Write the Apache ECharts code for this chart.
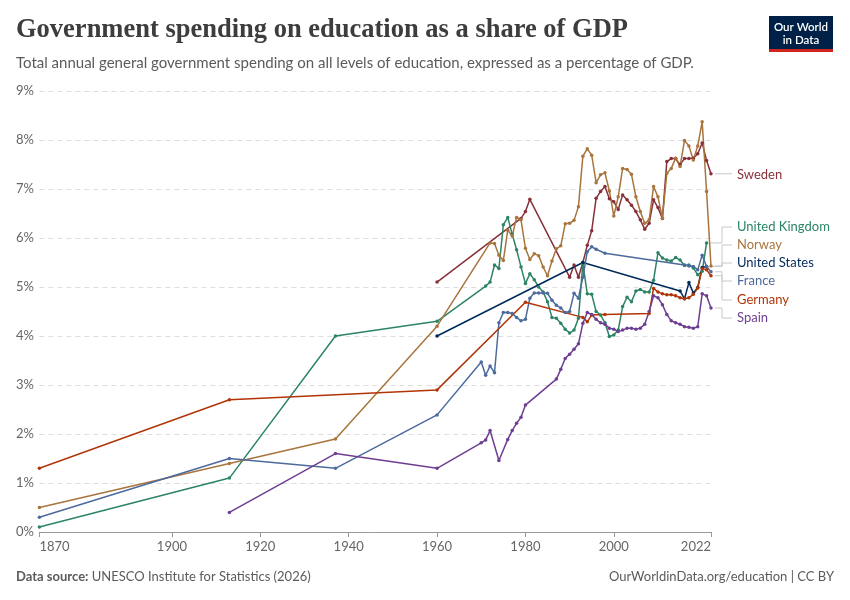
<!DOCTYPE html>
<html lang="en" style="height: 100%">
<head>
  <meta charset="utf-8">
</head>
<body style="height: 100%; margin: 0; background: #fff">
  <div id="container" style="width: 850px; height: 600px"></div>

  <script type="text/javascript" src="https://cdn.jsdelivr.net/npm/echarts@6/dist/echarts.min.js"></script>

  <script type="text/javascript">
    // values, [year, % of GDP]
    const sweden = [
      [1960, 5.1], [1979, 6.4], [1980, 6.54], [1981, 6.79], [1990, 5.2], [1991, 5.45],
      [1992, 5.2], [1993, 5.5], [1994, 5.85], [1995, 6.15], [1996, 6.81], [1997, 6.95],
      [1998, 7.05], [1999, 6.8], [2000, 6.74], [2001, 6.58], [2002, 6.88], [2003, 6.78],
      [2004, 6.67], [2005, 6.54], [2006, 6.37], [2007, 6.18], [2008, 6.3], [2009, 6.78],
      [2010, 6.62], [2011, 6.4], [2012, 7.56], [2013, 7.62], [2014, 7.62], [2015, 7.5],
      [2016, 7.62], [2017, 7.62], [2018, 7.63], [2019, 7.72], [2020, 7.94], [2021, 7.58],
      [2022, 7.31]
    ];
    const unitedKingdom = [
      [1870, 0.1], [1913, 1.1], [1937, 4.0], [1960, 4.3], [1971, 5.02], [1972, 5.1],
      [1973, 5.45], [1974, 5.38], [1975, 6.27], [1976, 6.42], [1977, 6.08], [1978, 5.76],
      [1979, 5.41], [1980, 5.07], [1981, 5.27], [1982, 5.15], [1983, 5.0], [1984, 4.9],
      [1985, 4.7], [1986, 4.38], [1987, 4.36], [1988, 4.26], [1989, 4.14], [1990, 4.06],
      [1991, 4.12], [1992, 4.36], [1993, 5.48], [1994, 4.86], [1995, 4.85], [1996, 4.5],
      [1997, 4.43], [1998, 4.27], [1999, 3.99], [2000, 4.02], [2001, 4.12], [2002, 4.6],
      [2003, 4.79], [2004, 4.7], [2005, 4.92], [2006, 4.95], [2007, 4.9], [2008, 4.9],
      [2009, 5.14], [2010, 5.7], [2011, 5.59], [2012, 5.55], [2013, 5.53], [2014, 5.6],
      [2015, 5.55], [2016, 5.44], [2017, 5.45], [2018, 5.39], [2019, 5.25], [2020, 5.32],
      [2021, 5.9]
    ];
    const norway = [
      [1870, 0.5], [1913, 1.4], [1937, 1.9], [1960, 4.2], [1972, 5.9], [1973, 5.89],
      [1974, 5.65], [1975, 5.54], [1976, 6.16], [1977, 6.04], [1978, 6.42], [1979, 6.37],
      [1980, 5.79], [1981, 5.56], [1982, 5.68], [1983, 5.64], [1984, 5.41], [1985, 5.23],
      [1986, 5.53], [1987, 5.78], [1988, 5.84], [1989, 6.29], [1990, 6.3], [1991, 6.36],
      [1992, 6.64], [1993, 7.67], [1994, 7.82], [1995, 7.69], [1996, 7.13], [1997, 7.29],
      [1998, 7.33], [1999, 6.96], [2000, 6.45], [2001, 6.84], [2002, 7.42], [2003, 7.4],
      [2004, 7.3], [2005, 6.84], [2006, 6.54], [2007, 6.3], [2008, 6.37], [2009, 7.05],
      [2010, 6.84], [2011, 6.4], [2012, 7.32], [2013, 7.42], [2014, 7.63], [2015, 7.46],
      [2016, 7.99], [2017, 7.88], [2018, 7.59], [2019, 7.88], [2020, 8.37], [2021, 6.95],
      [2022, 5.43]
    ];
    const unitedStates = [
      [1960, 4.0], [1993, 5.5], [2015, 4.92], [2016, 4.76], [2017, 5.09], [2018, 4.88],
      [2019, 4.99], [2020, 5.4], [2021, 5.42]
    ];
    const france = [
      [1870, 0.3], [1913, 1.5], [1937, 1.3], [1960, 2.39], [1970, 3.47], [1971, 3.2],
      [1972, 3.39], [1973, 3.25], [1974, 4.27], [1975, 4.48], [1976, 4.48], [1977, 4.46],
      [1978, 4.38], [1979, 4.31], [1980, 4.34], [1981, 4.77], [1982, 4.88], [1983, 4.88],
      [1984, 4.88], [1985, 4.87], [1986, 4.73], [1987, 4.63], [1988, 4.57], [1989, 4.48],
      [1990, 4.5], [1991, 4.87], [1992, 4.77], [1993, 5.2], [1994, 5.72], [1995, 5.82],
      [1996, 5.77], [1998, 5.69], [2016, 5.45], [2017, 5.43], [2018, 5.42], [2019, 5.35],
      [2020, 5.65], [2021, 5.42], [2022, 5.31]
    ];
    const germany = [
      [1870, 1.3], [1913, 2.7], [1960, 2.9], [1980, 4.69], [1993, 4.38], [1994, 4.29],
      [1995, 4.43], [1998, 4.44], [2008, 4.46], [2009, 4.97], [2010, 4.9], [2011, 4.86],
      [2012, 4.84], [2013, 4.84], [2014, 4.82], [2015, 4.78], [2016, 4.76], [2017, 4.78],
      [2018, 4.85], [2019, 4.98], [2020, 5.38], [2021, 5.35], [2022, 5.23]
    ];
    const spain = [
      [1913, 0.4], [1937, 1.6], [1960, 1.3], [1970, 1.82], [1971, 1.88], [1972, 2.07],
      [1974, 1.46], [1976, 1.89], [1977, 2.07], [1978, 2.22], [1979, 2.34], [1980, 2.59],
      [1987, 3.12], [1988, 3.32], [1989, 3.54], [1990, 3.63], [1991, 3.73], [1992, 3.84],
      [1993, 4.26], [1994, 4.48], [1995, 4.44], [1996, 4.34], [1997, 4.27], [1998, 4.24],
      [1999, 4.16], [2000, 4.14], [2001, 4.09], [2002, 4.12], [2003, 4.16], [2004, 4.16],
      [2005, 4.14], [2006, 4.16], [2007, 4.24], [2008, 4.5], [2009, 4.82], [2010, 4.78],
      [2011, 4.64], [2012, 4.44], [2013, 4.31], [2014, 4.27], [2015, 4.24], [2016, 4.19],
      [2017, 4.18], [2018, 4.16], [2019, 4.19], [2020, 4.86], [2021, 4.82], [2022, 4.57]
    ];

    const xTicks = [1870, 1900, 1920, 1940, 1960, 1980, 2000, 2022];

    const countries = [
      { name: 'Sweden', data: sweden, color: '#883039', labelY: 175 },
      { name: 'United Kingdom', data: unitedKingdom, color: '#2c8465', labelY: 227 },
      { name: 'Norway', data: norway, color: '#a8753d', labelY: 245 },
      { name: 'United States', data: unitedStates, color: '#00295b', labelY: 263 },
      { name: 'France', data: france, color: '#4c6a9c', labelY: 281 },
      { name: 'Germany', data: germany, color: '#b13507', labelY: 300 },
      { name: 'Spain', data: spain, color: '#6d3e91', labelY: 318 }
    ];

    var dom = document.getElementById('container');
    var myChart = echarts.init(dom, null, { renderer: 'canvas' });

    var seriesList = countries.map(function (c) {
      return {
        type: 'line',
        name: c.name,
        data: c.data,
        symbol: 'circle',
        symbolSize: 3.5,
        showSymbol: true,
        lineStyle: { color: c.color, width: 1.5 },
        itemStyle: { color: c.color },
        emphasis: { disabled: true }
      };
    });

    var option = {
      animation: false,
      backgroundColor: '#fff',
      title: {
        text: 'Government spending on education as a share of GDP',
        subtext: 'Total annual general government spending on all levels of education, expressed as a percentage of GDP.',
        left: 16,
        top: 17,
        padding: 0,
        itemGap: 12,
        textStyle: {
          fontFamily: 'Liberation Serif',
          fontWeight: 'bold',
          fontSize: 26.5,
          color: '#3d3d3d'
        },
        subtextStyle: {
          fontFamily: 'Lato',
          fontSize: 15,
          color: '#5b5b5b'
        }
      },
      grid: {
        left: 39.4,
        right: 139,
        top: 91,
        bottom: 68
      },
      xAxis: {
        type: 'value',
        min: 1870,
        max: 2022,
        axisLine: { show: true, lineStyle: { color: '#999', width: 1 } },
        axisTick: {
          show: true,
          length: 5,
          customValues: xTicks,
          lineStyle: { color: '#999' }
        },
        axisLabel: {
          customValues: xTicks,
          margin: 8,
          fontFamily: 'Lato',
          fontSize: 13,
          color: '#666',
          alignMinLabel: 'left',
          alignMaxLabel: 'right',
          formatter: function (v) { return String(v); }
        },
        splitLine: { show: false }
      },
      yAxis: {
        type: 'value',
        min: 0,
        max: 9,
        interval: 1,
        axisLine: { show: false },
        axisTick: { show: false },
        axisLabel: {
          formatter: '{value}%',
          align: 'left',
          margin: 23.4,
          fontFamily: 'Lato',
          fontSize: 13,
          color: '#666'
        },
        splitLine: {
          show: true,
          lineStyle: { color: '#dddddd', type: [5, 4], width: 1 }
        }
      },
      series: seriesList,
      graphic: [
        {
          type: 'group',
          left: 769,
          top: 16,
          children: [
            { type: 'rect', shape: { x: 0, y: 0, width: 64, height: 36 }, style: { fill: '#002147' } },
            { type: 'rect', shape: { x: 0, y: 33, width: 64, height: 3 }, style: { fill: '#ce261e' } },
            {
              type: 'text', x: 32, y: 11,
              style: { text: 'Our World', fill: '#fff', font: '600 11.5px Lato', align: 'center', verticalAlign: 'middle' }
            },
            {
              type: 'text', x: 32, y: 24,
              style: { text: 'in Data', fill: '#fff', font: '600 11.5px Lato', align: 'center', verticalAlign: 'middle' }
            }
          ]
        },
        {
          type: 'text',
          left: 16,
          top: 570,
          style: {
            text: '{b|Data source:} UNESCO Institute for Statistics (2026)',
            rich: {
              b: { fontFamily: 'Lato', fontWeight: 'bold', fontSize: 13, fill: '#5b5b5b' }
            },
            fontFamily: 'Lato',
            fontSize: 13,
            fill: '#5b5b5b'
          }
        },
        {
          type: 'text',
          right: 16,
          top: 570,
          style: {
            text: 'OurWorldinData.org/education | CC BY',
            fontFamily: 'Lato',
            fontSize: 13,
            fill: '#5b5b5b'
          }
        }
      ]
    };

    myChart.setOption(option);

    // end labels with connector lines from each series' last point
    var extra = [];
    countries.forEach(function (c) {
      var last = c.data[c.data.length - 1];
      var p = myChart.convertToPixel({ gridIndex: 0 }, last);
      var x0 = p[0] + 4;
      var bend = 722;
      var pts = Math.abs(p[1] - c.labelY) < 2
        ? [[x0, p[1]], [732, p[1]]]
        : [[x0, p[1]], [bend, p[1]], [bend, c.labelY], [732, c.labelY]];
      extra.push({
        type: 'polyline',
        shape: { points: pts },
        style: { stroke: '#c8c8c8', lineWidth: 1, fill: null },
        z: 1
      });
      extra.push({
        type: 'text',
        x: 737,
        y: c.labelY,
        style: {
          text: c.name,
          fill: c.color,
          fontFamily: 'Lato',
          fontSize: 13,
          verticalAlign: 'middle'
        }
      });
    });
    myChart.setOption({ graphic: option.graphic.concat(extra) });

    window.addEventListener('resize', myChart.resize);
  </script>
</body>
</html>
